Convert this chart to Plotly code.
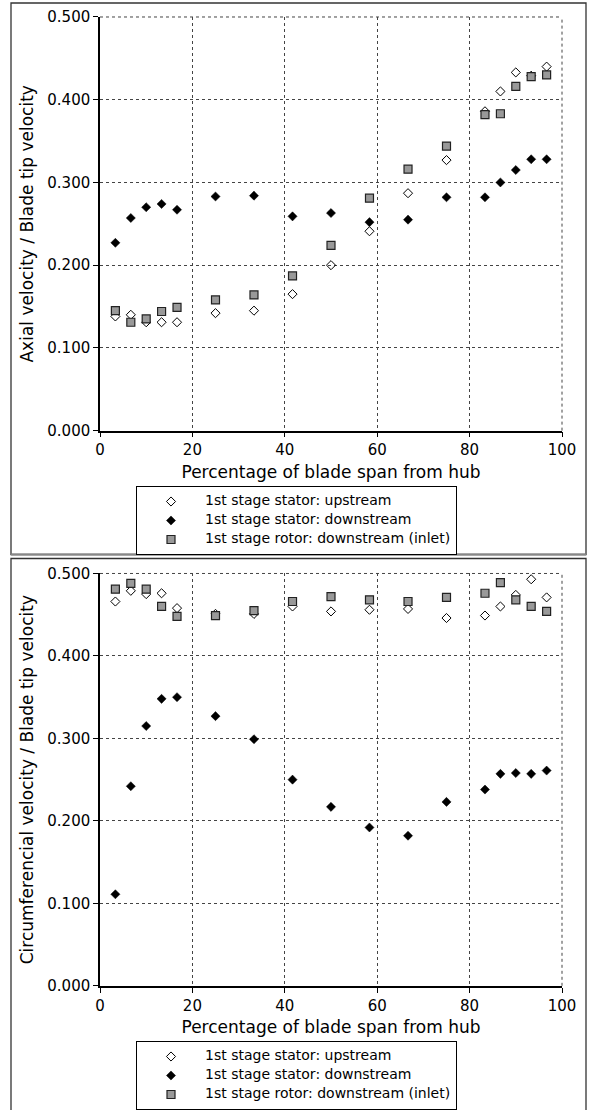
import plotly.graph_objects as go

# Radial measurement stations (percentage of blade span from hub)
span_pct = [3.33, 6.67, 10.0, 13.33, 16.67, 25.0, 33.33, 41.67, 50.0,
            58.33, 66.67, 75.0, 83.33, 86.67, 90.0, 93.33, 96.67]

# Axial velocity / blade tip velocity
axial_stator_up = [0.138, 0.140, 0.131, 0.131, 0.131, 0.142, 0.145, 0.165, 0.200,
                   0.241, 0.287, 0.327, 0.386, 0.410, 0.433, 0.429, 0.440]
axial_stator_down = [0.227, 0.257, 0.270, 0.274, 0.267, 0.283, 0.284, 0.259, 0.263,
                     0.252, 0.255, 0.282, 0.282, 0.300, 0.315, 0.328, 0.328]
axial_rotor_down = [0.145, 0.131, 0.135, 0.144, 0.149, 0.158, 0.164, 0.187, 0.224,
                    0.281, 0.316, 0.344, 0.382, 0.383, 0.416, 0.428, 0.430]

# Circumferential velocity / blade tip velocity
circ_stator_up = [0.466, 0.479, 0.475, 0.476, 0.458, 0.451, 0.451, 0.460, 0.454,
                  0.456, 0.457, 0.446, 0.449, 0.460, 0.474, 0.493, 0.471]
circ_stator_down = [0.111, 0.242, 0.315, 0.348, 0.350, 0.327, 0.299, 0.250, 0.217,
                    0.192, 0.182, 0.223, 0.238, 0.257, 0.258, 0.257, 0.261]
circ_rotor_down = [0.481, 0.488, 0.481, 0.460, 0.448, 0.449, 0.455, 0.466, 0.472,
                   0.468, 0.466, 0.471, 0.476, 0.489, 0.468, 0.460, 0.454]

series_names = ["1st stage stator: upstream",
                "1st stage stator: downstream",
                "1st stage rotor: downstream (inlet)"]

y_ticks = [0.0, 0.1, 0.2, 0.3, 0.4, 0.5]
y_tick_text = ["0.000", "0.100", "0.200", "0.300", "0.400", "0.500"]
x_ticks = [0, 20, 40, 60, 80, 100]

W, H = 589, 1110
FONT = "DejaVu Sans"

marker_styles = [
    dict(symbol="diamond-open", size=7, color="black", line=dict(width=1, color="black")),
    dict(symbol="diamond", size=7, color="black", line=dict(width=0.5, color="black")),
    dict(symbol="square", size=8, color="#999999", line=dict(width=1.2, color="#222222")),
]


def legend_label(text):
    # Legend rows are packed tightly; the label itself is set at 14px
    return f'<span style="font-size:14px">{text}</span>'


fig = go.Figure()

panels = [
    ("x", "y", [axial_stator_up, axial_stator_down, axial_rotor_down]),
    ("x2", "y2", [circ_stator_up, circ_stator_down, circ_rotor_down]),
]
for p, (xa, ya, series) in enumerate(panels):
    for name, vals, mk in zip(series_names, series, marker_styles):
        fig.add_trace(go.Scatter(
            x=span_pct, y=vals, mode="markers", name=legend_label(name),
            marker=mk, xaxis=xa, yaxis=ya,
            legend="legend" if p == 0 else "legend2",
            showlegend=True,
        ))


def px_x(v):
    return v / W


def px_y(v):
    return 1 - v / H


x_dom = [px_x(100), px_x(562)]
top_dom = [px_y(431), px_y(17)]
bot_dom = [px_y(986.7), px_y(574)]

axis_common = dict(
    showline=True, linecolor="black", linewidth=1.5,
    ticks="outside", ticklen=5, tickwidth=1, tickcolor="black",
    showgrid=True, gridcolor="#444444", gridwidth=1, griddash="dot",
    zeroline=False, automargin=False,
    tickfont=dict(family=FONT, size=15, color="black"),
)

xaxis_cfg = dict(axis_common, range=[0, 100], tickvals=x_ticks, domain=x_dom,
                 title=dict(text="Percentage of blade span from hub",
                            font=dict(family=FONT, size=17, color="black"),
                            standoff=8))

ytitle_font = dict(family=FONT, size=17, color="black")

legend_common = dict(xanchor="left", yanchor="top",
                     bordercolor="black", borderwidth=1, bgcolor="white",
                     font=dict(family=FONT, size=10, color="black"),
                     itemwidth=58, tracegroupgap=0)

fig.update_layout(
    width=W, height=H,
    margin=dict(l=0, r=0, t=0, b=0),
    paper_bgcolor="white", plot_bgcolor="white",
    font=dict(family=FONT, color="black"),
    xaxis=dict(xaxis_cfg, anchor="y"),
    xaxis2=dict(xaxis_cfg, anchor="y2"),
    yaxis=dict(axis_common, range=[0, 0.5], tickvals=y_ticks, ticktext=y_tick_text,
               domain=top_dom, anchor="x",
               title=dict(text="Axial velocity / Blade tip velocity",
                          font=ytitle_font, standoff=9)),
    yaxis2=dict(axis_common, range=[0, 0.5], tickvals=y_ticks, ticktext=y_tick_text,
                domain=bot_dom, anchor="x2",
                title=dict(text="Circumferencial velocity / Blade tip velocity",
                           font=ytitle_font, standoff=9)),
    legend=dict(legend_common, x=px_x(136), y=px_y(486)),
    legend2=dict(legend_common, x=px_x(136), y=px_y(1042)),
)

# Upper and right frame edges drawn as dotted grid lines
for xa, ya in [("x", "y"), ("x2", "y2")]:
    fig.add_shape(type="line", xref=f"{xa} domain", yref=f"{ya} domain",
                  x0=0, x1=1, y0=1, y1=1, line=dict(color="#444444", width=1, dash="dot"))
    fig.add_shape(type="line", xref=f"{xa} domain", yref=f"{ya} domain",
                  x0=1, x1=1, y0=0, y1=1, line=dict(color="#444444", width=1, dash="dot"))

# Panel frames
fig.add_shape(type="rect", xref="paper", yref="paper",
              x0=px_x(11), x1=px_x(586), y0=px_y(555), y1=px_y(3),
              line=dict(color="#333333", width=1.3))
fig.add_shape(type="line", xref="paper", yref="paper",
              x0=px_x(11), x1=px_x(586), y0=px_y(555), y1=px_y(555),
              line=dict(color="#888888", width=2))
fig.add_shape(type="rect", xref="paper", yref="paper",
              x0=px_x(11), x1=px_x(586), y0=px_y(1115), y1=px_y(559),
              line=dict(color="#333333", width=1.3))

fig.write_html("out.html")
